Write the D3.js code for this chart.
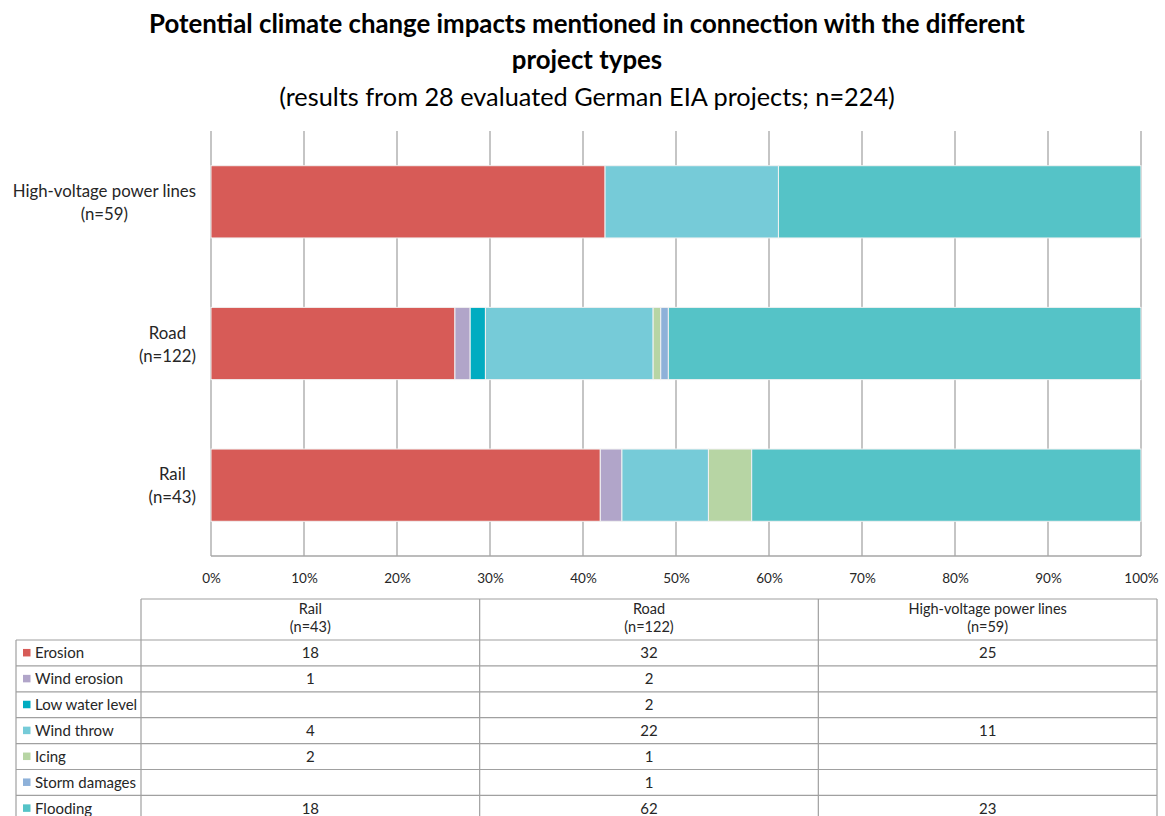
<!DOCTYPE html>
<html>
<head>
<meta charset="utf-8">
<script src="https://cdn.jsdelivr.net/npm/d3@7"></script>
<style>
  html, body { margin: 0; padding: 0; background: #fff; }
  svg { display: block; font-family: Lato, "Open Sans", sans-serif; }
</style>
</head>
<body>
<svg id="chart" width="1165" height="816"></svg>
<script>
// ---- Data ----
const impacts = ["Erosion", "Wind erosion", "Low water level", "Wind throw", "Icing", "Storm damages", "Flooding"];
const impactColors = ["#d75b57", "#b1a5c9", "#00acc1", "#76cbd8", "#b7d5a4", "#8eb1d9", "#55c3c7"];
const projects = ["Rail", "Road", "High-voltage power lines"];
const projectN = [43, 122, 59];
const railValues = [18, 1, 0, 4, 2, 0, 18];
const roadValues = [32, 2, 2, 22, 1, 1, 62];
const powerValues = [25, 0, 0, 11, 0, 0, 23];
const xTicks = [0, 0.1, 0.2, 0.3, 0.4, 0.5, 0.6, 0.7, 0.8, 0.9, 1.0];
const titleLines = ["Potential climate change impacts mentioned in connection with the different", "project types"];
const subtitle = "(results from 28 evaluated German EIA projects; n=224)";

const valuesByProject = [railValues, roadValues, powerValues];

const svg = d3.select("#chart");
const textColor = "#262626";

// ---- Title ----
const titleG = svg.append("g");
titleG.selectAll("text.t").data(titleLines).join("text")
  .attr("class", "t")
  .attr("x", 587).attr("y", (d, i) => 33 + i * 36)
  .attr("text-anchor", "middle")
  .attr("font-weight", "bold").attr("font-size", 25.8)
  .attr("fill", "#000")
  .text(d => d);
titleG.append("text")
  .attr("x", 587).attr("y", 106)
  .attr("text-anchor", "middle")
  .attr("font-size", 25.3)
  .attr("fill", "#000")
  .text(subtitle);

// ---- Chart ----
const plot = { left: 211, right: 1141, top: 131, bottom: 556 };
const x = d3.scaleLinear().domain([0, 1]).range([plot.left, plot.right]);
const chartOrder = [2, 1, 0]; // HV top, Road, Rail bottom
const y = d3.scaleBand().domain(chartOrder.map(i => projects[i]))
  .range([plot.top, plot.bottom]).paddingInner(0.49).paddingOuter(0.245);

// Grid lines
const gridG = svg.append("g");
gridG.selectAll("line").data(xTicks).join("line")
  .attr("x1", d => x(d)).attr("x2", d => x(d))
  .attr("y1", plot.top).attr("y2", plot.bottom)
  .attr("stroke", "#a6a6a6").attr("stroke-width", 1.3);
gridG.append("line")
  .attr("x1", plot.left).attr("x2", plot.right)
  .attr("y1", plot.bottom).attr("y2", plot.bottom)
  .attr("stroke", "#a6a6a6").attr("stroke-width", 1.3);

// Stacked bars
const stackData = chartOrder.map(pi => {
  const vals = valuesByProject[pi];
  const total = d3.sum(vals);
  let cum = 0;
  return vals.map((v, k) => {
    const s = { project: projects[pi], impact: k, x0: cum / total, x1: (cum + v) / total, v };
    cum += v;
    return s;
  }).filter(s => s.v > 0);
});
const barsG = svg.append("g");
barsG.selectAll("g").data(stackData).join("g")
  .selectAll("rect").data(d => d).join("rect")
  .attr("x", d => x(d.x0))
  .attr("width", d => x(d.x1) - x(d.x0))
  .attr("y", d => y(d.project))
  .attr("height", y.bandwidth())
  .attr("fill", d => impactColors[d.impact])
  .attr("stroke", "#f2f2f2").attr("stroke-width", 1);

// X axis labels
const xAxis = d3.axisBottom(x).tickValues(xTicks).tickFormat(d3.format(".0%")).tickSize(0).tickPadding(0);
const xAxisG = svg.append("g").attr("transform", `translate(0,${plot.bottom + 17})`).call(xAxis);
xAxisG.select(".domain").remove();
xAxisG.selectAll("text").attr("font-size", 13.5).attr("fill", textColor)
  .attr("font-family", "Lato, sans-serif");

// Category labels (centered block, right-aligned to ~196)
const catG = svg.append("g");
chartOrder.forEach(pi => {
  const name = projects[pi];
  const cy = y(name) + y.bandwidth() / 2;
  const lines = [name, `(n=${projectN[pi]})`];
  const t = catG.append("g");
  const texts = lines.map((l, i) => t.append("text")
    .attr("y", cy - 5 + i * 23)
    .attr("text-anchor", "middle")
    .attr("font-size", 16.8).attr("fill", textColor)
    .text(l));
  const w = d3.max(texts, tx => tx.node().getComputedTextLength());
  texts.forEach(tx => tx.attr("x", 196 - w / 2));
});

// ---- Table ----
const tbl = { left: 16, labelRight: 141, right: 1157, headerTop: 599, headerBottom: 640, rowH: 25.9 };
const colX = d3.scaleBand().domain(projects).range([tbl.labelRight, tbl.right]);
const rowY = d3.scaleBand().domain(impacts)
  .range([tbl.headerBottom, tbl.headerBottom + tbl.rowH * impacts.length]);
const lineColor = "#a0a0a0";
const tableG = svg.append("g");

// header cell borders
tableG.append("line").attr("x1", tbl.labelRight).attr("x2", tbl.right)
  .attr("y1", tbl.headerTop).attr("y2", tbl.headerTop).attr("stroke", lineColor).attr("stroke-width", 1.2);
// horizontal row lines
const rowLines = [tbl.headerBottom].concat(impacts.map(d => rowY(d) + rowY.bandwidth()));
tableG.selectAll("line.h").data(rowLines).join("line").attr("class", "h")
  .attr("x1", tbl.left).attr("x2", tbl.right)
  .attr("y1", d => d).attr("y2", d => d)
  .attr("stroke", lineColor).attr("stroke-width", 1.2);
// vertical lines
const vx = [tbl.labelRight].concat(projects.map(p => colX(p) + colX.bandwidth()));
tableG.selectAll("line.v").data(vx).join("line").attr("class", "v")
  .attr("x1", d => d).attr("x2", d => d)
  .attr("y1", tbl.headerTop).attr("y2", 816)
  .attr("stroke", lineColor).attr("stroke-width", 1.2);
tableG.append("line").attr("x1", tbl.left).attr("x2", tbl.left)
  .attr("y1", tbl.headerBottom).attr("y2", 816)
  .attr("stroke", lineColor).attr("stroke-width", 1.2);

// header text
projects.forEach((p, i) => {
  const cx = colX(p) + colX.bandwidth() / 2;
  [p, `(n=${projectN[i]})`].forEach((l, j) => {
    tableG.append("text").attr("x", cx).attr("y", 614 + j * 18)
      .attr("text-anchor", "middle").attr("font-size", 14.5).attr("fill", textColor).text(l);
  });
});

// legend labels
impacts.forEach((imp, k) => {
  const ry = rowY(imp);
  tableG.append("rect").attr("x", 23).attr("y", ry + rowY.bandwidth() / 2 - 4)
    .attr("width", 7.5).attr("height", 7.5).attr("fill", impactColors[k]);
  tableG.append("text").attr("x", 35).attr("y", ry + rowY.bandwidth() / 2 + 5.5)
    .attr("font-size", 15).attr("fill", textColor).text(imp);
});

// values
projects.forEach((p, i) => {
  const cx = colX(p) + colX.bandwidth() / 2;
  valuesByProject[i].forEach((v, k) => {
    if (v > 0) {
      tableG.append("text").attr("x", cx).attr("y", rowY(impacts[k]) + rowY.bandwidth() / 2 + 5.5)
        .attr("text-anchor", "middle").attr("font-size", 15).attr("fill", textColor).text(v);
    }
  });
});
</script>
</body>
</html>
